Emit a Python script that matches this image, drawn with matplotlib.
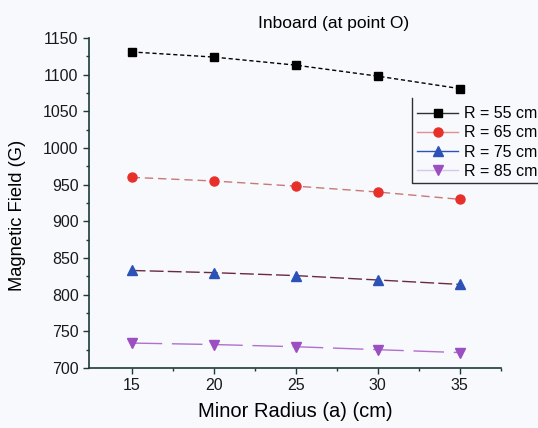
import numpy as np
import matplotlib.pyplot as plt
from matplotlib.lines import Line2D

plt.rcParams['font.family'] = ['Liberation Sans', 'DejaVu Sans']

# minor radius (cm)
a = [15, 20, 25, 30, 35]
# field values (G)
b_55 = [1131, 1124, 1113, 1098, 1081]
b_65 = [960, 955, 948, 940, 930]
b_75 = [833, 830, 826, 820, 814]
b_85 = [734, 732, 729, 725, 721]
labels = ['R = 55 cm', 'R = 65 cm', 'R = 75 cm', 'R = 85 cm']

bg = '#f7f9fc'
fig = plt.figure(figsize=(5.38, 4.28), dpi=100, facecolor=bg)
ax = fig.add_axes([0.1654, 0.1402, 0.7653, 0.771], facecolor=bg)

ax.plot(a, b_55, color='black', ls=(0, (3, 2)), lw=1, marker='s', ms=6,
        mfc='black', mec='black')
ax.plot(a, b_65, color='#c87878', ls=(0, (6, 3.5)), lw=1, marker='o', ms=6.5,
        mfc='#e8302a', mec='#e8302a')
ax.plot(a, b_75, color='#6a2a40', ls=(0, (10, 3)), lw=1, marker='^', ms=6.5,
        mfc='#2c52b8', mec='#2c52b8')
ax.plot(a, b_85, color='#b070d0', ls=(0, (22, 7)), lw=1, marker='v', ms=6.5,
        mfc='#9b4fc0', mec='#9b4fc0')

ax.set_xlim(12.4, 37.5)
ax.set_ylim(700, 1150)
ax.set_xticks(a)
ax.set_xticks([17.5, 22.5, 27.5, 32.5, 37.5], minor=True)
ax.set_yticks(np.arange(700, 1151, 50))
ax.set_yticks(np.arange(725, 1150, 50), minor=True)

for s in ['top', 'right']:
    ax.spines[s].set_visible(False)
for s in ['left', 'bottom']:
    ax.spines[s].set_color('#1e3a3a')
    ax.spines[s].set_linewidth(1.2)
ax.tick_params(which='major', direction='out', length=4, width=1, colors='#1e3a3a',
               labelcolor='#1a1a1a', labelsize=11.5)
ax.tick_params(which='minor', direction='out', length=2.5, width=1, colors='#1e3a3a')

ax.set_xlabel('Minor Radius (a) (cm)', fontsize=14.5, labelpad=6)
ax.set_ylabel('Magnetic Field (G)', fontsize=13.2)
ax.yaxis.set_label_coords(-0.152, 0.464)
fig.text(0.62, 0.944, 'Inboard (at point O)', ha='center', va='center', fontsize=12.5)

# legend handles: thin solid lines with one marker
handles = [
    Line2D([], [], color='#303030', lw=1, marker='s', ms=6, mfc='black', mec='black'),
    Line2D([], [], color='#e09090', lw=1, marker='o', ms=6.5, mfc='#e8302a', mec='#e8302a'),
    Line2D([], [], color='#2c52b8', lw=1, marker='^', ms=6.5, mfc='#2c52b8', mec='#2c52b8'),
    Line2D([], [], color='#d8c8e8', lw=1, marker='v', ms=6.5, mfc='#9b4fc0', mec='#9b4fc0'),
]
ax.legend(handles, labels, loc='upper left', bbox_to_anchor=(0.769, 0.759),
          bbox_transform=fig.transFigure, frameon=False, fontsize=11.5,
          handlelength=2.6, handletextpad=0.37, labelspacing=0.26,
          borderpad=0.2, borderaxespad=0)

# Origin-style legend frame: only left and bottom edges
fig.add_artist(Line2D([0.7658, 0.7658, 1.0], [0.772, 0.573, 0.573],
                      color='#303030', lw=1, transform=fig.transFigure))

fig.savefig('out.png', dpi=100, facecolor=bg)
